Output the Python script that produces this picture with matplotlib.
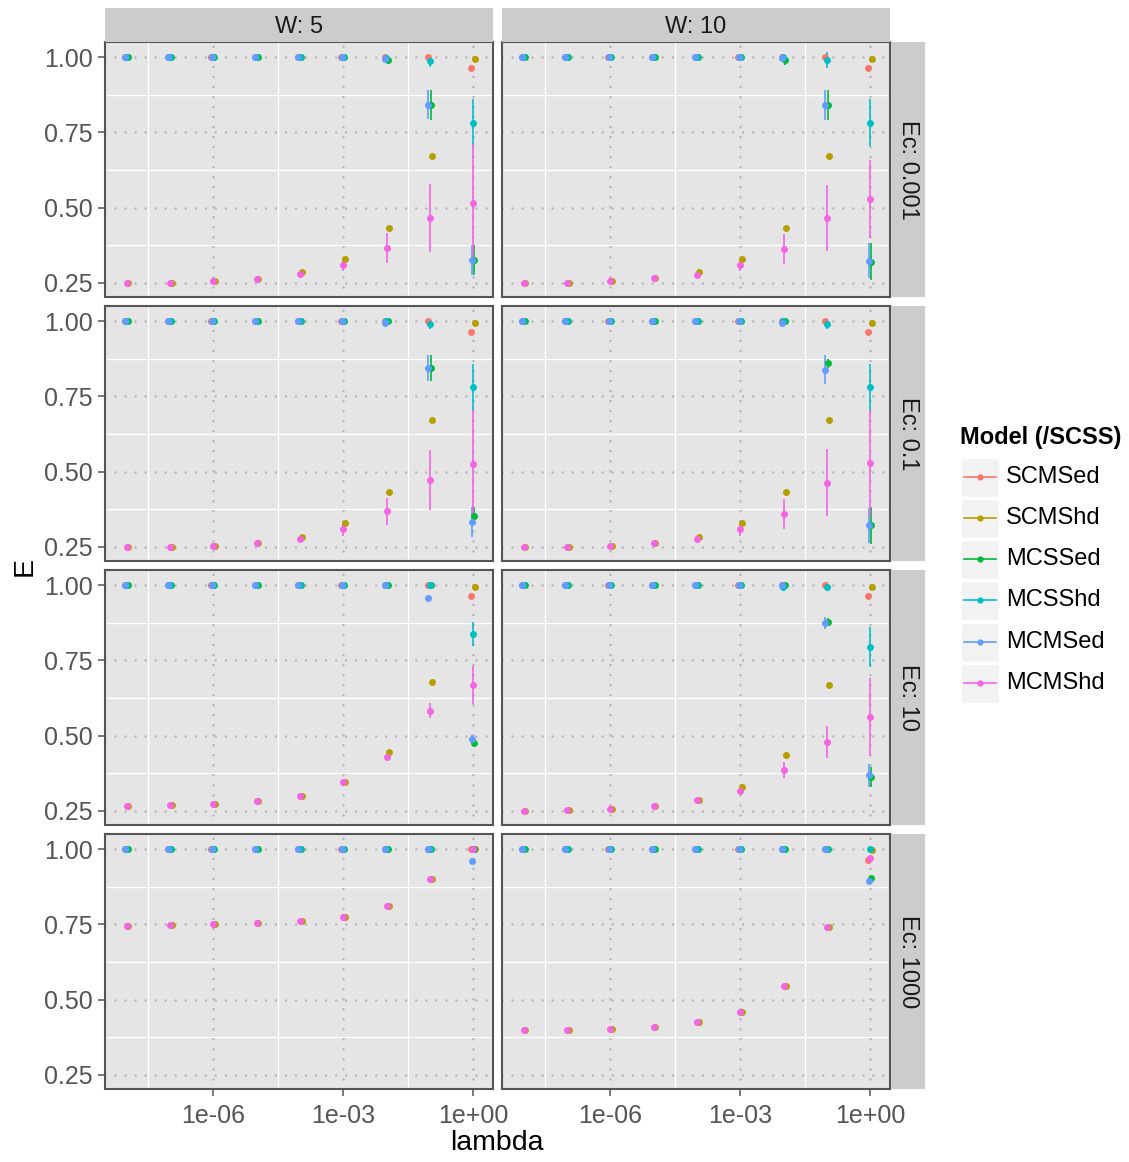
import numpy as np
import matplotlib
matplotlib.use("Agg")
import matplotlib.pyplot as plt
from matplotlib.patches import Rectangle
from matplotlib.lines import Line2D

plt.rcParams['font.family'] = ['Liberation Sans', 'DejaVu Sans']

# ---------------- data ----------------
lambda_exp = [-8, -7, -6, -5, -4, -3, -2, -1, 0]
lambdas = [10.0 ** e for e in lambda_exp]
models = ["SCMSed", "SCMShd", "MCSSed", "MCSShd", "MCMSed", "MCMShd"]
colors = ["#F8766D", "#B79F00", "#00BA38", "#00BFC4", "#619CFF", "#F564E3"]
W_levels = ["W: 5", "W: 10"]
Ec_levels = ["Ec: 0.001", "Ec: 0.1", "Ec: 10", "Ec: 1000"]
x_tick_vals = [1e-6, 1e-3, 1e0]
x_tick_labels = ["1e-06", "1e-03", "1e+00"]
y_tick_vals = [0.25, 0.50, 0.75, 1.00]
y_tick_labels = ["0.25", "0.50", "0.75", "1.00"]

# W: 5, Ec: 0.001
mean_W5_Ec0001 = {
    "SCMSed": [1.0, 1.0, 1.0, 1.0, 1.0, 1.0, 1.0, 1.0, 0.963],
    "SCMShd": [0.251, 0.251, 0.255, 0.263, 0.285, 0.33, 0.432, 0.672, 0.994],
    "MCSSed": [1.0, 1.0, 1.0, 1.0, 1.0, 1.0, 0.99, 0.842, 0.327],
    "MCSShd": [1.0, 1.0, 1.0, 1.0, 1.0, 1.0, 0.998, 0.988, 0.782],
    "MCMSed": [1.0, 1.0, 1.0, 1.0, 1.0, 1.0, 0.995, 0.842, 0.327],
    "MCMShd": [0.251, 0.251, 0.255, 0.263, 0.279, 0.31, 0.367, 0.467, 0.516],
}
err_W5_Ec0001 = {
    "MCSSed": [0, 0, 0, 0, 0, 0, 0.012, 0.05, 0.05],
    "MCSShd": [0, 0, 0, 0, 0, 0, 0, 0.02, 0.079],
    "MCMSed": [0, 0, 0, 0, 0, 0, 0, 0.049, 0.05],
    "MCMShd": [0, 0, 0, 0, 0, 0.02, 0.05, 0.113, 0.195],
}
# W: 10, Ec: 0.001
mean_W10_Ec0001 = {
    "SCMSed": [1.0, 1.0, 1.0, 1.0, 1.0, 1.0, 1.0, 1.0, 0.963],
    "SCMShd": [0.25, 0.25, 0.255, 0.265, 0.285, 0.33, 0.432, 0.672, 0.994],
    "MCSSed": [1.0, 1.0, 1.0, 1.0, 1.0, 1.0, 0.99, 0.84, 0.321],
    "MCSShd": [1.0, 1.0, 1.0, 1.0, 1.0, 1.0, 1.0, 0.99, 0.782],
    "MCMSed": [1.0, 1.0, 1.0, 1.0, 1.0, 1.0, 0.997, 0.84, 0.324],
    "MCMShd": [0.25, 0.25, 0.255, 0.265, 0.277, 0.31, 0.363, 0.466, 0.529],
}
err_W10_Ec0001 = {
    "MCSSed": [0, 0, 0, 0, 0, 0, 0.015, 0.05, 0.062],
    "MCSShd": [0, 0, 0, 0, 0, 0, 0, 0.025, 0.079],
    "MCMSed": [0, 0, 0, 0, 0, 0, 0.01, 0.049, 0.058],
    "MCMShd": [0, 0, 0, 0, 0, 0.02, 0.05, 0.11, 0.13],
}
# W: 5, Ec: 0.1
mean_W5_Ec01 = {
    "SCMSed": [1.0, 1.0, 1.0, 1.0, 1.0, 1.0, 1.0, 1.0, 0.964],
    "SCMShd": [0.25, 0.25, 0.253, 0.262, 0.282, 0.33, 0.432, 0.672, 0.994],
    "MCSSed": [1.0, 1.0, 1.0, 1.0, 1.0, 1.0, 1.0, 0.845, 0.353],
    "MCSShd": [1.0, 1.0, 1.0, 1.0, 1.0, 1.0, 1.0, 0.99, 0.781],
    "MCMSed": [1.0, 1.0, 1.0, 1.0, 1.0, 1.0, 0.992, 0.845, 0.333],
    "MCMShd": [0.25, 0.25, 0.253, 0.262, 0.277, 0.31, 0.369, 0.472, 0.525],
}
err_W5_Ec01 = {
    "MCSSed": [0, 0, 0, 0, 0, 0, 0, 0.043, 0.03],
    "MCSShd": [0, 0, 0, 0, 0, 0, 0, 0.015, 0.077],
    "MCMSed": [0, 0, 0, 0, 0, 0, 0, 0.043, 0.05],
    "MCMShd": [0, 0, 0, 0, 0, 0.025, 0.045, 0.1, 0.178],
}
# W: 10, Ec: 0.1
mean_W10_Ec01 = {
    "SCMSed": [1.0, 1.0, 1.0, 1.0, 1.0, 1.0, 1.0, 1.0, 0.964],
    "SCMShd": [0.25, 0.25, 0.253, 0.262, 0.283, 0.33, 0.432, 0.672, 0.994],
    "MCSSed": [1.0, 1.0, 1.0, 1.0, 1.0, 1.0, 1.0, 0.86, 0.322],
    "MCSShd": [1.0, 1.0, 1.0, 1.0, 1.0, 1.0, 1.0, 0.99, 0.781],
    "MCMSed": [1.0, 1.0, 1.0, 1.0, 1.0, 1.0, 0.995, 0.839, 0.322],
    "MCMShd": [0.25, 0.25, 0.253, 0.262, 0.277, 0.31, 0.359, 0.464, 0.528],
}
err_W10_Ec01 = {
    "MCSSed": [0, 0, 0, 0, 0, 0, 0, 0.015, 0.062],
    "MCSShd": [0, 0, 0, 0, 0, 0, 0, 0.015, 0.077],
    "MCMSed": [0, 0, 0, 0, 0, 0, 0.01, 0.047, 0.058],
    "MCMShd": [0, 0, 0, 0, 0, 0.025, 0.05, 0.11, 0.178],
}
# W: 5, Ec: 10
mean_W5_Ec10 = {
    "SCMSed": [1.0, 1.0, 1.0, 1.0, 1.0, 1.0, 1.0, 1.0, 0.964],
    "SCMShd": [0.267, 0.27, 0.273, 0.283, 0.30, 0.345, 0.447, 0.679, 0.994],
    "MCSSed": [1.0, 1.0, 1.0, 1.0, 1.0, 1.0, 1.0, 1.0, 0.475],
    "MCSShd": [1.0, 1.0, 1.0, 1.0, 1.0, 1.0, 1.0, 1.0, 0.838],
    "MCMSed": [1.0, 1.0, 1.0, 1.0, 1.0, 1.0, 1.0, 0.956, 0.489],
    "MCMShd": [0.267, 0.27, 0.273, 0.283, 0.30, 0.345, 0.43, 0.583, 0.668],
}
err_W5_Ec10 = {
    "MCSSed": [0, 0, 0, 0, 0, 0, 0, 0, 0.01],
    "MCSShd": [0, 0, 0, 0, 0, 0, 0, 0, 0.04],
    "MCMSed": [0, 0, 0, 0, 0, 0, 0, 0, 0.012],
    "MCMShd": [0, 0, 0, 0, 0, 0, 0, 0.024, 0.064],
}
# W: 10, Ec: 10
mean_W10_Ec10 = {
    "SCMSed": [1.0, 1.0, 1.0, 1.0, 1.0, 1.0, 1.0, 1.0, 0.963],
    "SCMShd": [0.25, 0.253, 0.257, 0.265, 0.285, 0.33, 0.435, 0.667, 0.994],
    "MCSSed": [1.0, 1.0, 1.0, 1.0, 1.0, 1.0, 1.0, 0.878, 0.363],
    "MCSShd": [1.0, 1.0, 1.0, 1.0, 1.0, 1.0, 0.995, 0.995, 0.794],
    "MCMSed": [1.0, 1.0, 1.0, 1.0, 1.0, 1.0, 1.0, 0.875, 0.369],
    "MCMShd": [0.25, 0.253, 0.257, 0.265, 0.285, 0.315, 0.385, 0.478, 0.563],
}
err_W10_Ec10 = {
    "MCSSed": [0, 0, 0, 0, 0, 0, 0, 0.014, 0.034],
    "MCSShd": [0, 0, 0, 0, 0, 0, 0.01, 0.015, 0.066],
    "MCMSed": [0, 0, 0, 0, 0, 0, 0, 0.02, 0.038],
    "MCMShd": [0, 0, 0, 0, 0, 0.01, 0.026, 0.053, 0.13],
}
# W: 5, Ec: 1000
mean_W5_Ec1000 = {
    "SCMSed": [1.0, 1.0, 1.0, 1.0, 1.0, 1.0, 1.0, 1.0, 1.0],
    "SCMShd": [0.745, 0.748, 0.75, 0.755, 0.762, 0.774, 0.811, 0.90, 1.0],
    "MCSSed": [1.0, 1.0, 1.0, 1.0, 1.0, 1.0, 1.0, 1.0, 1.0],
    "MCSShd": [1.0, 1.0, 1.0, 1.0, 1.0, 1.0, 1.0, 1.0, 1.0],
    "MCMSed": [1.0, 1.0, 1.0, 1.0, 1.0, 1.0, 1.0, 1.0, 0.96],
    "MCMShd": [0.745, 0.748, 0.75, 0.755, 0.762, 0.774, 0.811, 0.90, 1.0],
}
err_W5_Ec1000 = {}
# W: 10, Ec: 1000
mean_W10_Ec1000 = {
    "SCMSed": [1.0, 1.0, 1.0, 1.0, 1.0, 1.0, 1.0, 1.0, 0.965],
    "SCMShd": [0.399, 0.40, 0.403, 0.41, 0.426, 0.46, 0.545, 0.742, 0.997],
    "MCSSed": [1.0, 1.0, 1.0, 1.0, 1.0, 1.0, 1.0, 1.0, 0.905],
    "MCSShd": [1.0, 1.0, 1.0, 1.0, 1.0, 1.0, 1.0, 1.0, 1.0],
    "MCMSed": [1.0, 1.0, 1.0, 1.0, 1.0, 1.0, 1.0, 1.0, 0.894],
    "MCMShd": [0.399, 0.40, 0.403, 0.41, 0.426, 0.46, 0.545, 0.742, 0.97],
}
err_W10_Ec1000 = {}

panel_data = [
    [(mean_W5_Ec0001, err_W5_Ec0001), (mean_W10_Ec0001, err_W10_Ec0001)],
    [(mean_W5_Ec01, err_W5_Ec01), (mean_W10_Ec01, err_W10_Ec01)],
    [(mean_W5_Ec10, err_W5_Ec10), (mean_W10_Ec10, err_W10_Ec10)],
    [(mean_W5_Ec1000, err_W5_Ec1000), (mean_W10_Ec1000, err_W10_Ec1000)],
]

# ---------------- layout ----------------
W, H = 1129, 1162
fig = plt.figure(figsize=(W / 100, H / 100), dpi=100)
fig.patch.set_facecolor("white")


def fbox(x0, y0, x1, y1):
    return [x0 / W, 1 - y1 / H, (x1 - x0) / W, (y1 - y0) / H]


col_x = [(105, 493), (502, 890)]
row_y = [(42, 297), (306, 561), (570, 825), (834, 1089)]
strip_top = (8, 42)
strip_right = (891, 925)

# small horizontal dodge (in decades) per model
dodge = {"SCMSed": -0.04, "SCMShd": 0.05, "MCSSed": 0.03,
         "MCSShd": 0.0, "MCMSed": -0.03, "MCMShd": 0.01}

xlim = (10 ** -8.49, 10 ** 0.46)
ylim = (0.2035, 1.0498)
text_col = "#555555"
tick_fs = 18
dot_style = dict(color="#B5B5B5", lw=1.8, ls=(0, (0.01, 4.0)),
                 dash_capstyle="round", zorder=1.5)

for r in range(4):
    for c in range(2):
        x0, x1 = col_x[c]
        y0, y1 = row_y[r]
        ax = fig.add_axes(fbox(x0, y0, x1, y1))
        ax.set_facecolor("#E5E5E5")
        ax.set_xscale("log")
        ax.set_xlim(*xlim)
        ax.set_ylim(*ylim)
        # minor white grid
        for e in [-7.5, -4.5, -1.5]:
            ax.axvline(10 ** e, color="white", lw=0.9, zorder=1)
        for yv in [0.375, 0.625, 0.875]:
            ax.axhline(yv, color="white", lw=0.9, zorder=1)
        # major dotted grid
        for xv in x_tick_vals:
            ax.axvline(xv, **dot_style)
        for yv in y_tick_vals:
            ax.axhline(yv, **dot_style)

        means, errs = panel_data[r][c]
        xs_base = np.array(lambdas)
        for m, col in zip(models, colors):
            xs = xs_base * 10 ** dodge[m]
            ys = np.array(means[m])
            if m in errs:
                es = np.array(errs[m])
                for xv, yv, ev in zip(xs, ys, es):
                    if ev > 0:
                        ax.plot([xv, xv], [yv - ev, yv + ev], color=col,
                                lw=1.2, solid_capstyle="butt", zorder=3)
        for m, col in zip(models, colors):
            xs = xs_base * 10 ** dodge[m]
            ax.plot(xs, means[m], ls="none", marker="o", ms=5.0,
                    mfc=col, mec=col, mew=0, zorder=4)

        ax.set_xticks(x_tick_vals)
        ax.xaxis.set_minor_locator(matplotlib.ticker.NullLocator())
        ax.set_yticks(y_tick_vals)
        ax.tick_params(axis="both", which="major", length=5, width=1.1,
                       color="#555555", labelcolor=text_col,
                       labelsize=tick_fs)
        ax.tick_params(axis="x", pad=6)
        ax.tick_params(axis="y", pad=4)
        if c == 0:
            ax.set_yticklabels(y_tick_labels)
        else:
            ax.tick_params(axis="y", length=0, labelleft=False)
        if r == 3:
            ax.set_xticklabels(x_tick_labels)
        else:
            ax.tick_params(axis="x", length=0, labelbottom=False)
        for sp in ax.spines.values():
            sp.set_color("#555555")
            sp.set_linewidth(1.5)

        # strips
        if r == 0:
            sax = fig.add_axes(fbox(x0, strip_top[0], x1, strip_top[1]))
            sax.set_facecolor("#CCCCCC")
            sax.set_xticks([]); sax.set_yticks([])
            for sp in sax.spines.values():
                sp.set_visible(False)
            sax.text(0.5, 0.44, W_levels[c], ha="center", va="center",
                     fontsize=17, color="#1A1A1A", transform=sax.transAxes)
        if c == 1:
            sax = fig.add_axes(fbox(strip_right[0], y0, strip_right[1], y1))
            sax.set_facecolor("#CCCCCC")
            sax.set_xticks([]); sax.set_yticks([])
            for sp in sax.spines.values():
                sp.set_visible(False)
            sax.text(0.5, 0.5, Ec_levels[r], ha="center", va="center",
                     rotation=-90, fontsize=17, color="#1A1A1A",
                     transform=sax.transAxes)

# axis titles
fig.text(497 / W, 1 - 1143 / H, "lambda", ha="center", va="center",
         fontsize=20.5, color="black")
fig.text(25 / W, 1 - 566 / H, "E", ha="center", va="center",
         rotation=90, fontsize=20.5, color="black")

# legend
fig.text(960 / W, 1 - 438 / H, "Model (/SCSS)", ha="left", va="center",
         fontsize=17, fontweight="bold", color="black")
key_centers = [477, 518, 559, 600, 642, 683]
for m, col, yc in zip(models, colors, key_centers):
    kx0, kx1 = 961, 999
    ky0, ky1 = yc - 19.5, yc + 19.5
    fig.patches.append(Rectangle((kx0 / W, 1 - ky1 / H), (kx1 - kx0) / W,
                                 (ky1 - ky0) / H, transform=fig.transFigure,
                                 facecolor="#F2F2F2", edgecolor="white",
                                 lw=1.0))
    fig.lines.append(Line2D([(kx0 + 3) / W, (kx1 - 3) / W],
                            [1 - yc / H, 1 - yc / H],
                            transform=fig.transFigure, color=col, lw=1.2))
    fig.lines.append(Line2D([(kx0 + kx1) / 2 / W], [1 - yc / H],
                            transform=fig.transFigure, ls="none",
                            marker="o", ms=4.5, mfc=col, mec=col, mew=0))
    fig.text(1006 / W, 1 - yc / H, m, ha="left", va="center",
             fontsize=17, color="black")

fig.savefig("out.png", dpi=100)
